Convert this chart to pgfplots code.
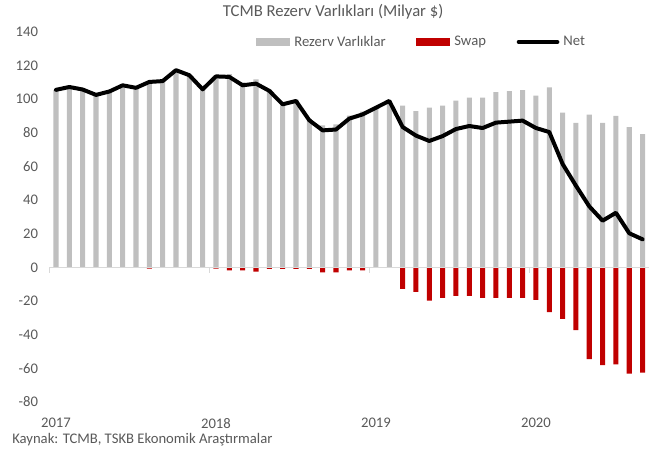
\documentclass[border=0pt]{standalone}
\usepackage{pgfplots}
\usepackage{pgfplotstable}
\pgfplotsset{compat=1.18}
\usepackage{fontspec}
\setmainfont{Carlito}
\definecolor{resgray}{HTML}{BFBFBF}
\definecolor{swapred}{HTML}{C00000}
\definecolor{txtgray}{HTML}{595959}
\definecolor{axgray}{HTML}{D9D9D9}

\pgfplotstableread{
i reserve swap net
0 105.6 0 105.6
1 107.3 0 107.3
2 105.8 0 105.8
3 102.6 0 102.6
4 104.6 0 104.6
5 108.3 0 108.3
6 106.8 0 106.8
7 111.0 -0.7 110.3
8 110.8 0 110.8
9 117.3 0 117.3
10 114.3 0 114.3
11 105.9 0 105.9
12 114.3 -0.7 113.6
13 115.0 -1.7 113.3
14 110.0 -1.7 108.3
15 111.8 -2.5 109.3
16 105.8 -0.8 105.0
17 97.8 -0.8 97.0
18 99.8 -0.8 99.0
19 88.3 -0.8 87.5
20 84.5 -3.0 81.5
21 85.0 -3.0 82.0
22 90.2 -1.7 88.5
23 92.7 -1.7 91.0
24 95.0 0 95.0
25 99.0 0 99.0
26 96.2 -12.7 83.5
27 92.9 -14.5 78.4
28 95.0 -19.8 75.2
29 96.2 -18.1 78.1
30 99.2 -16.9 82.3
31 101.0 -16.9 84.1
32 101.0 -18.1 82.9
33 104.2 -18.1 86.1
34 104.8 -18.1 86.7
35 105.4 -18.1 87.3
36 102.2 -19.3 82.9
37 107.1 -26.6 80.5
38 92.1 -30.6 61.5
39 85.9 -37.3 48.6
40 90.9 -54.6 36.3
41 85.9 -58.1 27.8
42 90.1 -57.6 32.5
43 83.5 -63.2 20.3
44 79.3 -62.6 16.7
}\datatable

\begin{document}
\begin{tikzpicture}
\begin{axis}[
  name=ax,
  scale only axis,
  width=450pt, height=277.5pt,
  xmin=-0.5, xmax=44.5,
  ymin=-80, ymax=140,
  axis lines*=left,
  axis line style={draw=none},
  major tick length=0pt,
  xtick={0,12,24,36},
  xticklabels={2017,2018,2019,2020},
  ytick={-80,-60,-40,-20,0,20,40,60,80,100,120,140},
  /pgf/number format/assume math mode=true,
  tick label style={font=\fontsize{11}{13}\selectfont, text=txtgray},
  xticklabel style={yshift=-11.5pt, inner sep=0.5pt},
  yticklabel style={xshift=-5pt},
  legend columns=3,
  legend style={draw=none, fill=none, at={(rel axis cs:0.338,0.973)}, anchor=west,
    font=\fontsize{11}{13}\selectfont, text=txtgray,
    /tikz/every even column/.append style={column sep=20pt},
    nodes={inner sep=3pt}},
  clip=false,
]
\addplot[ybar, bar width=0.38, bar shift=0pt, fill=resgray, draw=none,
  legend image code/.code={\fill[resgray] (0pt,-3pt) rectangle (25.5pt,3pt);}]
  table[x=i, y=reserve] {\datatable};
\addlegendentry{Rezerv Varlıklar}
\addplot[ybar, bar width=0.38, bar shift=0pt, fill=swapred, draw=none,
  legend image code/.code={\fill[swapred] (0pt,-3pt) rectangle (25.5pt,3pt);}]
  table[x=i, y=swap] {\datatable};
\addlegendentry{Swap}
\draw[axgray, line width=1.1pt] (axis cs:-0.5,0) -- (axis cs:44.5,0);
\draw[axgray, line width=0.8pt] (axis cs:-0.5,0) -- ++(0pt,-4pt);
\draw[axgray, line width=0.8pt] (axis cs:11.5,0) -- ++(0pt,-4pt);
\draw[axgray, line width=0.8pt] (axis cs:23.5,0) -- ++(0pt,-4pt);
\draw[axgray, line width=0.8pt] (axis cs:35.5,0) -- ++(0pt,-4pt);
\addplot[black, line width=3pt, line join=round, line cap=round, mark=none,
  legend image code/.code={\draw[black, line width=3pt, line cap=round] (0pt,0pt) -- (29pt,0pt);}]
  table[x=i, y=net] {\datatable};
\addlegendentry{Net}
\node[font=\fontsize{12.5}{15}\selectfont, text=txtgray] at (rel axis cs:0.473,1.055) {TCMB Rezerv Varlıkları (Milyar \$)};
\end{axis}
\node[anchor=west, font=\fontsize{11}{13}\selectfont, text=txtgray, inner sep=0pt] at ([xshift=-28pt, yshift=-28.5pt]ax.south west) {Kaynak: TCMB, TSKB Ekonomik Araştırmalar};
\pgfresetboundingbox
\path ([xshift=-37pt,yshift=-36pt]ax.south west) rectangle ([xshift=13.3pt,yshift=24pt]ax.north east);
\end{tikzpicture}
\end{document}
